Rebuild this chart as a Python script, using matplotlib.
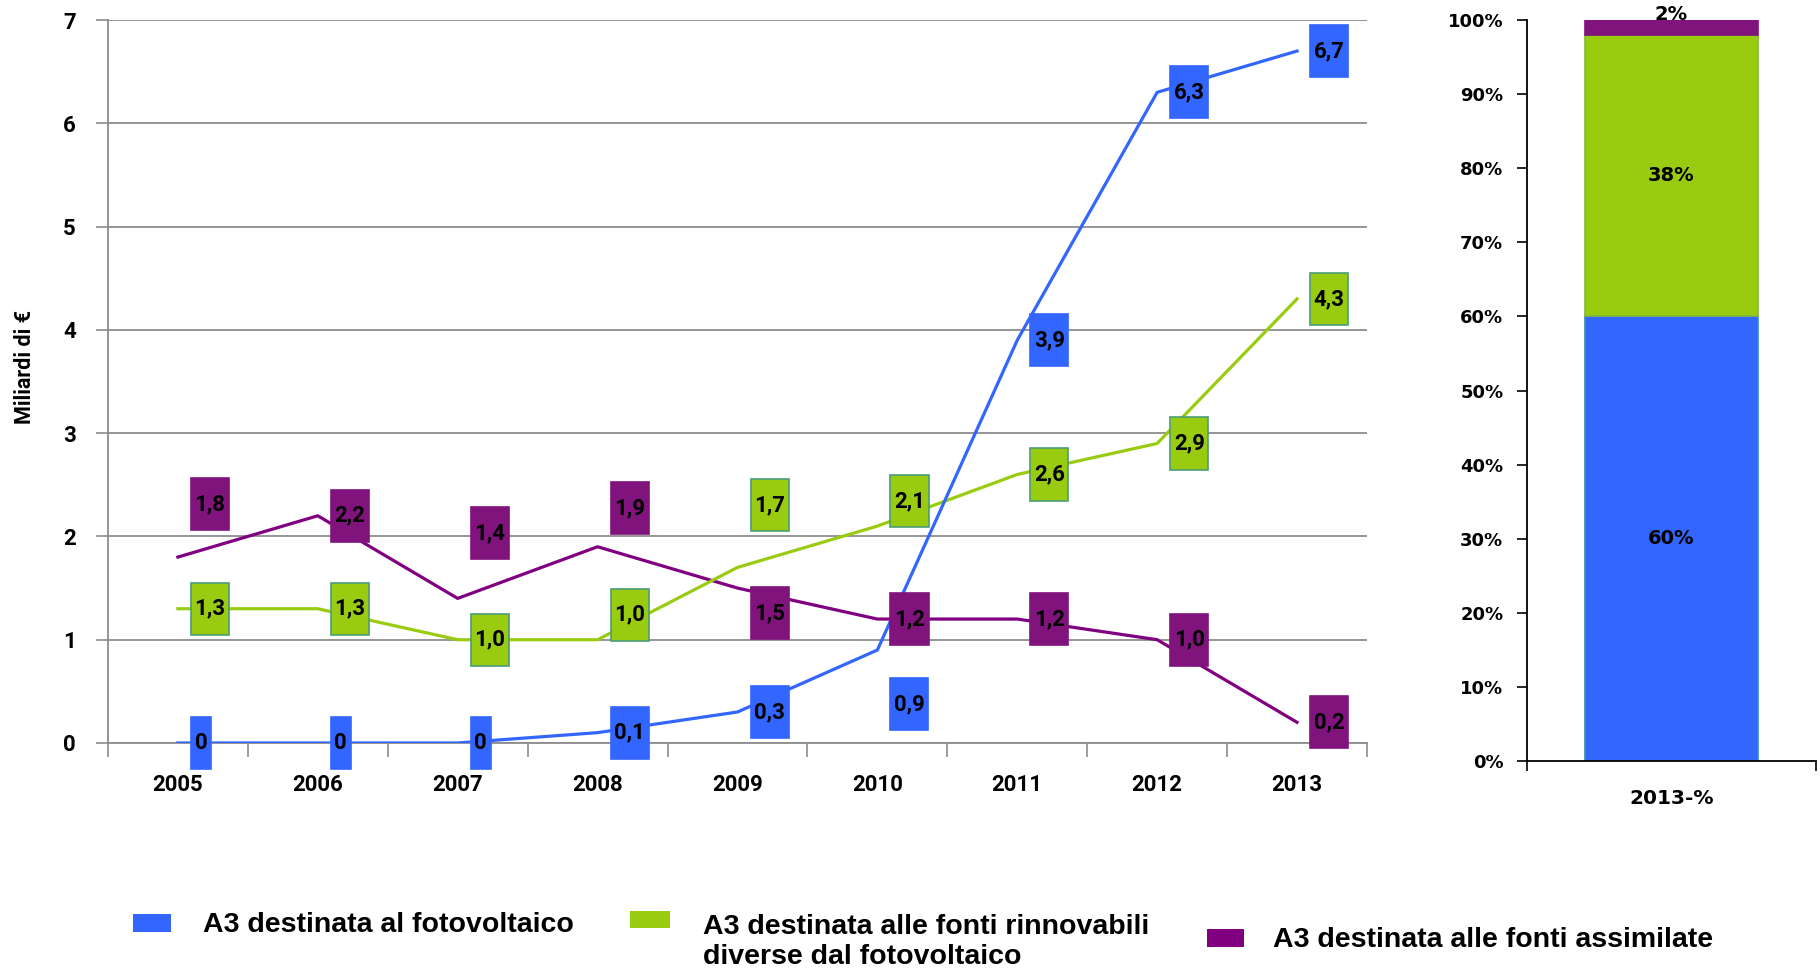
import matplotlib
matplotlib.use('Agg')
import matplotlib.pyplot as plt
from matplotlib.path import Path
from matplotlib.patches import Rectangle

# dati (miliardi di euro)
anni = ['2005', '2006', '2007', '2008', '2009', '2010', '2011', '2012', '2013']
fotovoltaico = [0, 0, 0, 0.1, 0.3, 0.9, 3.9, 6.3, 6.7]
rinnovabili = [1.3, 1.3, 1.0, 1.0, 1.7, 2.1, 2.6, 2.9, 4.3]
assimilate = [1.8, 2.2, 1.4, 1.9, 1.5, 1.2, 1.2, 1.0, 0.2]

quota_2013 = [60, 38, 2]
quota_label = '2013-%'

nomi = ['A3 destinata al fotovoltaico',
        'A3 destinata alle fonti rinnovabili\ndiverse dal fotovoltaico',
        'A3 destinata alle fonti assimilate']

BLU = '#3366FF'
VERDE = '#99CC11'
VIOLA = '#81147C'
LINEA_VIOLA = '#800080'
GRIGIO = '#8C8C8C'

# spostamento verticale delle etichette (punti), come nel grafico originale
off_blu = [0, 0, 0, 0, 0, -39, 0, 0, 0]
off_verde = [0, 0, 0, 18, 45, 18, 0, 0, 0]
off_viola = [38, 0, 47, 28, -18, 0, 0, 0, 0]

LBL = ['Roboto', 'DejaVu Sans']
LEG = ['Liberation Sans', 'DejaVu Sans']


def box_alto(x0, y0, width, height, mutation_size):
    # box rettangolare più alto che largo, come le etichette di Excel
    px = 0.16 * mutation_size
    py = 0.68 * mutation_size
    x0, x1 = x0 - px, x0 + width + px
    y0, y1 = y0 - py, y0 + height + py
    return Path([(x0, y0), (x1, y0), (x1, y1), (x0, y1), (x0, y0)], closed=True)


fig = plt.figure(figsize=(18.2, 9.73), dpi=100)

# --- grafico a linee ---
ax = fig.add_axes([0.0593, 0.2364, 0.6918, 0.743])
x = list(range(len(anni)))
ax.plot(x, assimilate, color=LINEA_VIOLA, lw=2.3, zorder=3)
ax.plot(x, rinnovabili, color=VERDE, lw=2.3, zorder=3)
ax.plot(x, fotovoltaico, color=BLU, lw=2.3, zorder=3)

serie = [(fotovoltaico, off_blu, BLU, BLU),
         (rinnovabili, off_verde, VERDE, '#4A9E78'),
         (assimilate, off_viola, VIOLA, VIOLA)]
for valori, offs, fc, ec in serie:
    for i, v in enumerate(valori):
        testo = '0' if v == 0 else f'{v:.1f}'.replace('.', ',')
        ax.annotate(testo, (i, v), xytext=(12, offs[i]), textcoords='offset points',
                    ha='left', va='center', fontsize=16, fontweight='bold',
                    family=LBL, color='black', zorder=5,
                    bbox=dict(boxstyle=box_alto, fc=fc, ec=ec, lw=1.2))

ax.set_xlim(-0.5, len(anni) - 0.5)
ax.set_ylim(0, 7)
ax.set_yticks(range(0, 8))
ax.grid(axis='y', color=GRIGIO, lw=1.3)
ax.set_axisbelow(True)
ax.set_xticks(x)
ax.set_xticklabels(anni)
ax.set_xticks([i - 0.5 for i in range(len(anni) + 1)], minor=True)
ax.tick_params(axis='x', which='major', length=0, pad=22)
ax.tick_params(axis='x', which='minor', length=10, width=1.2, color=GRIGIO, direction='out')
ax.tick_params(axis='y', length=9, width=1.2, color=GRIGIO, pad=14)
for lab in ax.get_xticklabels() + ax.get_yticklabels():
    lab.set_fontsize(16)
    lab.set_fontweight('bold')
    lab.set_family(LBL)
for s in ['top', 'right']:
    ax.spines[s].set_visible(False)
for s in ['left', 'bottom']:
    ax.spines[s].set_color(GRIGIO)
    ax.spines[s].set_linewidth(1.3)
ax.set_ylabel('Miliardi di €', fontsize=15.5, fontweight='bold', family=LBL)
ax.yaxis.set_label_coords(-0.057, 0.52)

# --- barra 2013 in percentuale ---
bx = fig.add_axes([0.839, 0.2179, 0.1588, 0.7615])
colori = [BLU, VERDE, VIOLA]
bordi = ['#3A8AB0', '#7FB93A', VIOLA]
base = 0
for q, c, e in zip(quota_2013, colori, bordi):
    bx.bar(0, q, bottom=base, width=0.6, color=c, edgecolor=e, lw=1.2)
    base += q
base = 0
for k, q in enumerate(quota_2013):
    dy = 9 if k == len(quota_2013) - 1 else 0
    bx.annotate(f'{q}%', (0, base + q / 2), xytext=(0, dy), textcoords='offset points',
                ha='center', va='center', fontsize=14, fontweight='bold',
                family='DejaVu Sans')
    base += q
bx.set_xlim(-0.5, 0.5)
bx.set_ylim(0, 100)
bx.set_yticks(range(0, 101, 10))
bx.set_yticklabels([f'{t}%' for t in range(0, 101, 10)])
bx.set_xticks([0])
bx.set_xticklabels([quota_label])
bx.set_xticks([-0.5, 0.5], minor=True)
bx.tick_params(axis='x', which='major', length=0, pad=20)
bx.tick_params(axis='x', which='minor', length=7, width=1.2, direction='out')
bx.tick_params(axis='y', length=7, width=1.2, pad=10)
for lab in bx.get_yticklabels():
    lab.set_fontsize(13)
for lab in bx.get_xticklabels():
    lab.set_fontsize(14.5)
for lab in bx.get_xticklabels() + bx.get_yticklabels():
    lab.set_fontweight('bold')
    lab.set_family('DejaVu Sans')
for s in ['top', 'right']:
    bx.spines[s].set_visible(False)
for s in ['left', 'bottom']:
    bx.spines[s].set_linewidth(1.3)

# --- legenda ---
W, H = 1820, 973
voci = [(nomi[0], BLU, (133, 914, 38, 18), (203, 925)),
        (nomi[1], VERDE, (630, 911, 40, 17), (703, 942)),
        (nomi[2], LINEA_VIOLA, (1207, 929, 37, 18), (1273, 940))]
for nome, c, (rx, ry, rw, rh), (tx, ty) in voci:
    fig.patches.append(Rectangle((rx / W, 1 - (ry + rh) / H), rw / W, rh / H,
                                 transform=fig.transFigure, fc=c, ec='none'))
    fig.text(tx / W, 1 - ty / H, nome, ha='left', va='center',
             fontsize=20.5, fontweight='bold', family=LEG, linespacing=1.18,
             transform=fig.transFigure)

fig.savefig('out.png', dpi=100)
